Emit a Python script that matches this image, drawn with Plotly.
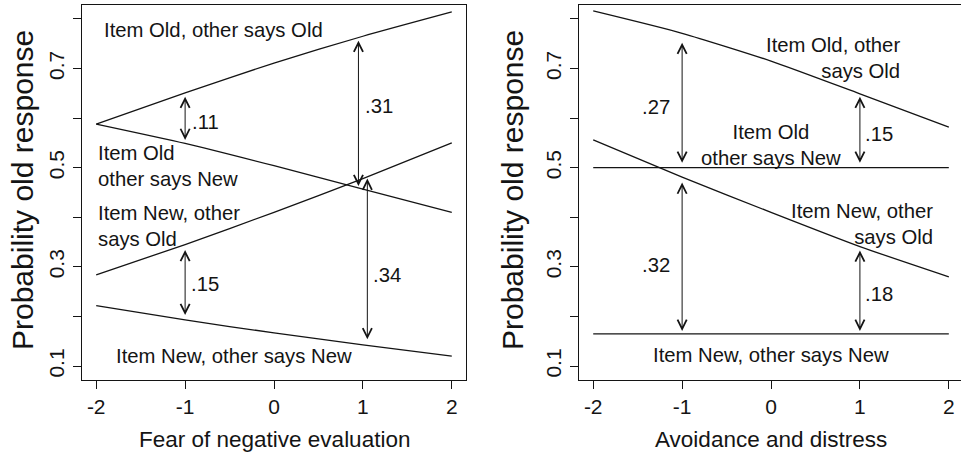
import plotly.graph_objects as go

# ---------------- data ----------------
x_vals = [-2, -1, 0, 1, 2]

# Left panel: Fear of negative evaluation
fne_old_old = [0.588, 0.651, 0.711, 0.765, 0.814]
fne_old_new = [0.588, 0.549, 0.504, 0.457, 0.410]
fne_new_old = [0.284, 0.345, 0.410, 0.478, 0.550]
fne_new_new = [0.222, 0.193, 0.167, 0.143, 0.120]

# Right panel: Avoidance and distress
ad_old_old = [0.816, 0.771, 0.715, 0.649, 0.582]
ad_old_new = [0.500, 0.500, 0.500, 0.500, 0.500]
ad_new_old = [0.556, 0.481, 0.410, 0.341, 0.280]
ad_new_new = [0.165, 0.165, 0.165, 0.165, 0.165]

# Difference arrows (x, top, bottom, label)
fne_arrow_x = [-1, 0.95, 1.05, -1]
fne_arrow_top = [0.643, 0.756, 0.478, 0.334]
fne_arrow_bot = [0.553, 0.460, 0.151, 0.200]
fne_arrow_lab = [".11", ".31", ".34", ".15"]
fne_lab_x = [-0.95, 1.0, 1.09, -0.96]
fne_lab_y = [0.592, 0.625, 0.284, 0.265]

ad_arrow_x = [-1, 1, -1, 1]
ad_arrow_top = [0.752, 0.643, 0.470, 0.333]
ad_arrow_bot = [0.507, 0.507, 0.168, 0.168]
ad_arrow_lab = [".27", ".15", ".32", ".18"]
ad_lab_x = [-1.11, 1.03, -1.11, 1.03]
ad_lab_y = [0.622, 0.568, 0.304, 0.245]
ad_lab_anchor = ["right", "left", "right", "left"]

y_ticks = [0.1, 0.2, 0.3, 0.4, 0.5, 0.6, 0.7, 0.8]
y_ticktext = ["0.1", "", "0.3", "", "0.5", "", "0.7", ""]
x_ticks = [-2, -1, 0, 1, 2]
x_ticktext = ["-2", "-1", "0", "1", "2"]

# ---------------- figure ----------------
INK = "#141414"
FONT = "Liberation Sans, Arial, Helvetica, sans-serif"

fig = go.Figure()

for ys in [fne_old_old, fne_old_new, fne_new_old, fne_new_new]:
    fig.add_trace(go.Scatter(x=x_vals, y=ys, mode="lines", xaxis="x", yaxis="y",
                             line=dict(color=INK, width=1.3, shape="spline", smoothing=0.6),
                             showlegend=False, hoverinfo="skip"))
for ys in [ad_old_old, ad_old_new, ad_new_old, ad_new_new]:
    fig.add_trace(go.Scatter(x=x_vals, y=ys, mode="lines", xaxis="x2", yaxis="y2",
                             line=dict(color=INK, width=1.3, shape="spline", smoothing=0.6),
                             showlegend=False, hoverinfo="skip"))

ann = []
TXT = dict(family=FONT, size=20.3, color=INK)


def arrow(xr, yr, x, ytop, ybot):
    return dict(x=x, y=ytop, ax=x, ay=ybot, xref=xr, yref=yr, axref=xr, ayref=yr,
                text="", showarrow=True, arrowhead=5, startarrowhead=5,
                arrowside="end+start", arrowsize=1.8, startarrowsize=1.8,
                arrowwidth=1, arrowcolor=INK, standoff=0, startstandoff=0)


for i in range(4):
    ann.append(arrow("x", "y", fne_arrow_x[i], fne_arrow_top[i], fne_arrow_bot[i]))
    ann.append(dict(x=fne_lab_x[i], y=fne_lab_y[i], xref="x", yref="y", text=fne_arrow_lab[i],
                    showarrow=False, xanchor="left", yanchor="middle", font=TXT))
    ann.append(arrow("x2", "y2", ad_arrow_x[i], ad_arrow_top[i], ad_arrow_bot[i]))
    ann.append(dict(x=ad_lab_x[i], y=ad_lab_y[i], xref="x2", yref="y2", text=ad_arrow_lab[i],
                    showarrow=False, xanchor=ad_lab_anchor[i], yanchor="middle", font=TXT))

# line labels, left panel
ann += [
    dict(x=-1.94, y=0.777, xref="x", yref="y", text="Item Old, other says Old",
         showarrow=False, xanchor="left", yanchor="middle", font=TXT),
    dict(x=-2.0, y=0.503, xref="x", yref="y", text="Item Old<br>other says New",
         showarrow=False, xanchor="left", yanchor="middle", align="left", font=TXT),
    dict(x=-2.0, y=0.383, xref="x", yref="y", text="Item New, other<br>says Old",
         showarrow=False, xanchor="left", yanchor="middle", align="left", font=TXT),
    dict(x=-1.8, y=0.120, xref="x", yref="y", text="Item New, other says New",
         showarrow=False, xanchor="left", yanchor="middle", font=TXT),
]
# line labels, right panel
ann += [
    dict(x=1.47, y=0.722, xref="x2", yref="y2", text="Item Old, other<br>says Old",
         showarrow=False, xanchor="right", yanchor="middle", align="right", font=TXT),
    dict(x=0.0, y=0.546, xref="x2", yref="y2", text="Item Old<br>other says New",
         showarrow=False, xanchor="center", yanchor="middle", align="center", font=TXT),
    dict(x=1.84, y=0.387, xref="x2", yref="y2", text="Item New, other<br>says Old",
         showarrow=False, xanchor="right", yanchor="middle", align="right", font=TXT),
    dict(x=0.0, y=0.122, xref="x2", yref="y2", text="Item New, other says New",
         showarrow=False, xanchor="center", yanchor="middle", font=TXT),
]

# axis titles (pixel-placed)
L, R_, T, B = 82, 0, 5, 74
PW, PH = 961 - L - R_, 454 - T - B


def px(xp):
    return (xp - L) / PW


def py(yp):
    return 1 - (yp - T) / PH


TITLE = dict(family=FONT, size=22.5, color=INK)
YTITLE = dict(family=FONT, size=30, color=INK)
ann += [
    dict(x=px(274), y=py(439), xref="paper", yref="paper", text="Fear of negative evaluation",
         showarrow=False, xanchor="center", yanchor="middle", font=TITLE),
    dict(x=px(771), y=py(439), xref="paper", yref="paper", text="Avoidance and distress",
         showarrow=False, xanchor="center", yanchor="middle", font=TITLE),
    dict(x=px(22), y=py(190), xref="paper", yref="paper", text="Probability old response",
         showarrow=False, textangle=-90, xanchor="center", yanchor="middle", font=YTITLE),
    dict(x=px(512), y=py(190), xref="paper", yref="paper", text="Probability old response",
         showarrow=False, textangle=-90, xanchor="center", yanchor="middle", font=YTITLE),
]

xax = dict(tickvals=x_ticks, ticktext=x_ticktext, showgrid=False, zeroline=False,
           showline=True, mirror=True, linecolor=INK, linewidth=1.3,
           ticks="outside", ticklen=8, tickwidth=1, tickcolor=INK,
           tickfont=dict(family=FONT, size=21, color=INK), fixedrange=True)
yax = dict(tickvals=y_ticks, ticktext=y_ticktext, showgrid=False, zeroline=False,
           showline=True, linecolor=INK, linewidth=1.3,
           ticks="outside", ticklen=8, tickwidth=1, tickcolor=INK, tickangle=-90,
           tickfont=dict(family=FONT, size=21, color=INK), range=[0.072, 0.828],
           fixedrange=True)

fig.update_layout(
    width=961, height=454,
    margin=dict(l=L, r=R_, t=T, b=B),
    paper_bgcolor="white", plot_bgcolor="white",
    xaxis=dict(xax, domain=[0, 384 / PW], range=[-2.16, 2.16], anchor="y"),
    yaxis=dict(yax, domain=[0, 1], anchor="x", mirror=True),
    xaxis2=dict(xax, domain=[(579 - L) / PW, 1.0], range=[-2.16, -2.16 + 382 / 88.9], anchor="y2"),
    yaxis2=dict(yax, domain=[0, 1], anchor="x2", mirror=False),
    annotations=ann,
    showlegend=False,
)

fig.write_html(
    "out.html",
    config={"displayModeBar": False},
    post_script="document.body.style.margin='0';document.body.style.overflow='hidden';",
)
